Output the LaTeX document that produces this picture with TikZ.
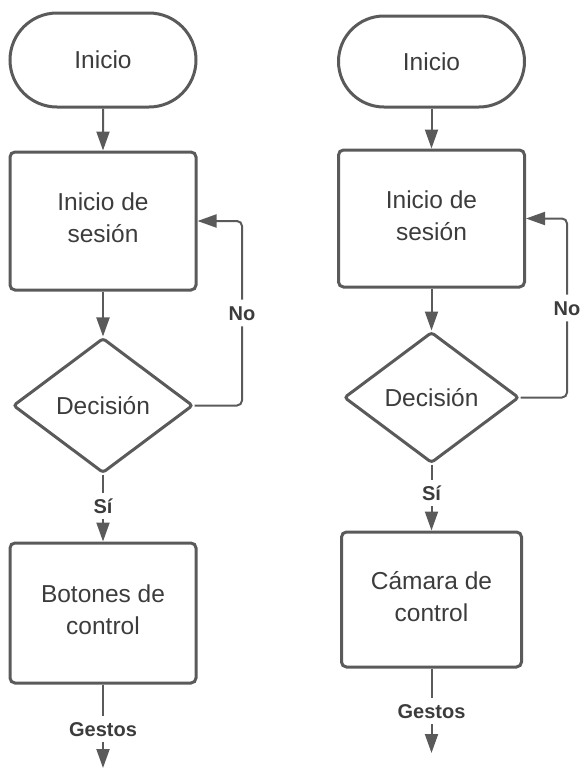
\documentclass[tikz,border=0pt]{standalone}
\usepackage{fontspec}
\setmainfont{Liberation Sans}
\usetikzlibrary{shapes.geometric,shapes.misc,arrows.meta}
\definecolor{linegray}{HTML}{5A5A5A}
\definecolor{textgray}{HTML}{3C3C3C}

\begin{document}
\begin{tikzpicture}[x=1pt,y=-1pt,
  boxtext/.style={text=textgray,font=\fontsize{24.5}{32}\selectfont,align=center},
  terminal/.style={boxtext,draw=linegray,line width=3pt,rounded rectangle,
    minimum width=186pt,inner sep=0pt},
  process/.style={boxtext,draw=linegray,line width=3pt,rectangle,
    rounded corners=5pt,minimum width=186pt,inner sep=0pt,text depth=6.5pt},
  decision/.style={boxtext,draw=linegray,line width=3pt,diamond,
    rounded corners=3pt,inner sep=0pt},
  lbl/.style={text=textgray,font=\fontsize{20}{22}\selectfont\bfseries,
    text height=14.5pt,text depth=0pt,inner sep=6pt},
  conn/.style={draw=linegray,line width=2pt,rounded corners=5pt},
  flow/.style={conn,-{Triangle[length=19pt,width=13pt]}}]

\useasboundingbox (0,0) rectangle (579,769);

% ---------- left flow ----------
\node[terminal,minimum height=94pt] (ls) at (103,60) {Inicio};
\node[process,minimum height=138pt] (lp) at (103,221) {Inicio de\\sesión};
\node[decision,minimum width=180pt,minimum height=135pt] (ld) at (103,405.5) {Decisión};
\node[process,minimum height=140pt] (lb) at (103,613) {Botones de\\control};
\node[lbl] (lsi) at (103,506) {Sí};
\node[lbl] (lno) at (242,313) {No};
\node[lbl] (lge) at (103,729) {Gestos};
\coordinate (lend) at (103,768);

\draw[flow] (ls) -- (lp);
\draw[flow] (lp) -- (ld);
\draw[conn] (ld.south) -- (lsi.north);
\draw[flow] (lsi.south) -- (lb.north);
\draw[conn] (ld.east) -| (lno.south);
\draw[flow] (lno.north) |- (lp.east);
\draw[conn] (lb.south) -- (lge.north);
\draw[flow] (lge.south) -- (lend);

% ---------- right flow ----------
\node[terminal,minimum height=91pt] (rs) at (431.5,61.5) {Inicio};
\node[process,minimum height=137pt] (rp) at (431.5,218.5) {Inicio de\\sesión};
\node[decision,minimum width=175pt,minimum height=131pt] (rd) at (431.5,397.5) {Decisión};
\node[process,minimum width=180pt,minimum height=135pt] (rc) at (431.5,599.5) {Cámara de\\control};
\node[lbl] (rsi) at (431.5,493) {Sí};
\node[lbl] (rno) at (567,308) {No};
\node[lbl] (rge) at (431.5,711) {Gestos};
\coordinate (rend) at (431.5,753);

\draw[flow] (rs) -- (rp);
\draw[flow] (rp) -- (rd);
\draw[conn] (rd.south) -- (rsi.north);
\draw[flow] (rsi.south) -- (rc.north);
\draw[conn] (rd.east) -| (rno.south);
\draw[flow] (rno.north) |- (rp.east);
\draw[conn] (rc.south) -- (rge.north);
\draw[flow] (rge.south) -- (rend);
\end{tikzpicture}
\end{document}
